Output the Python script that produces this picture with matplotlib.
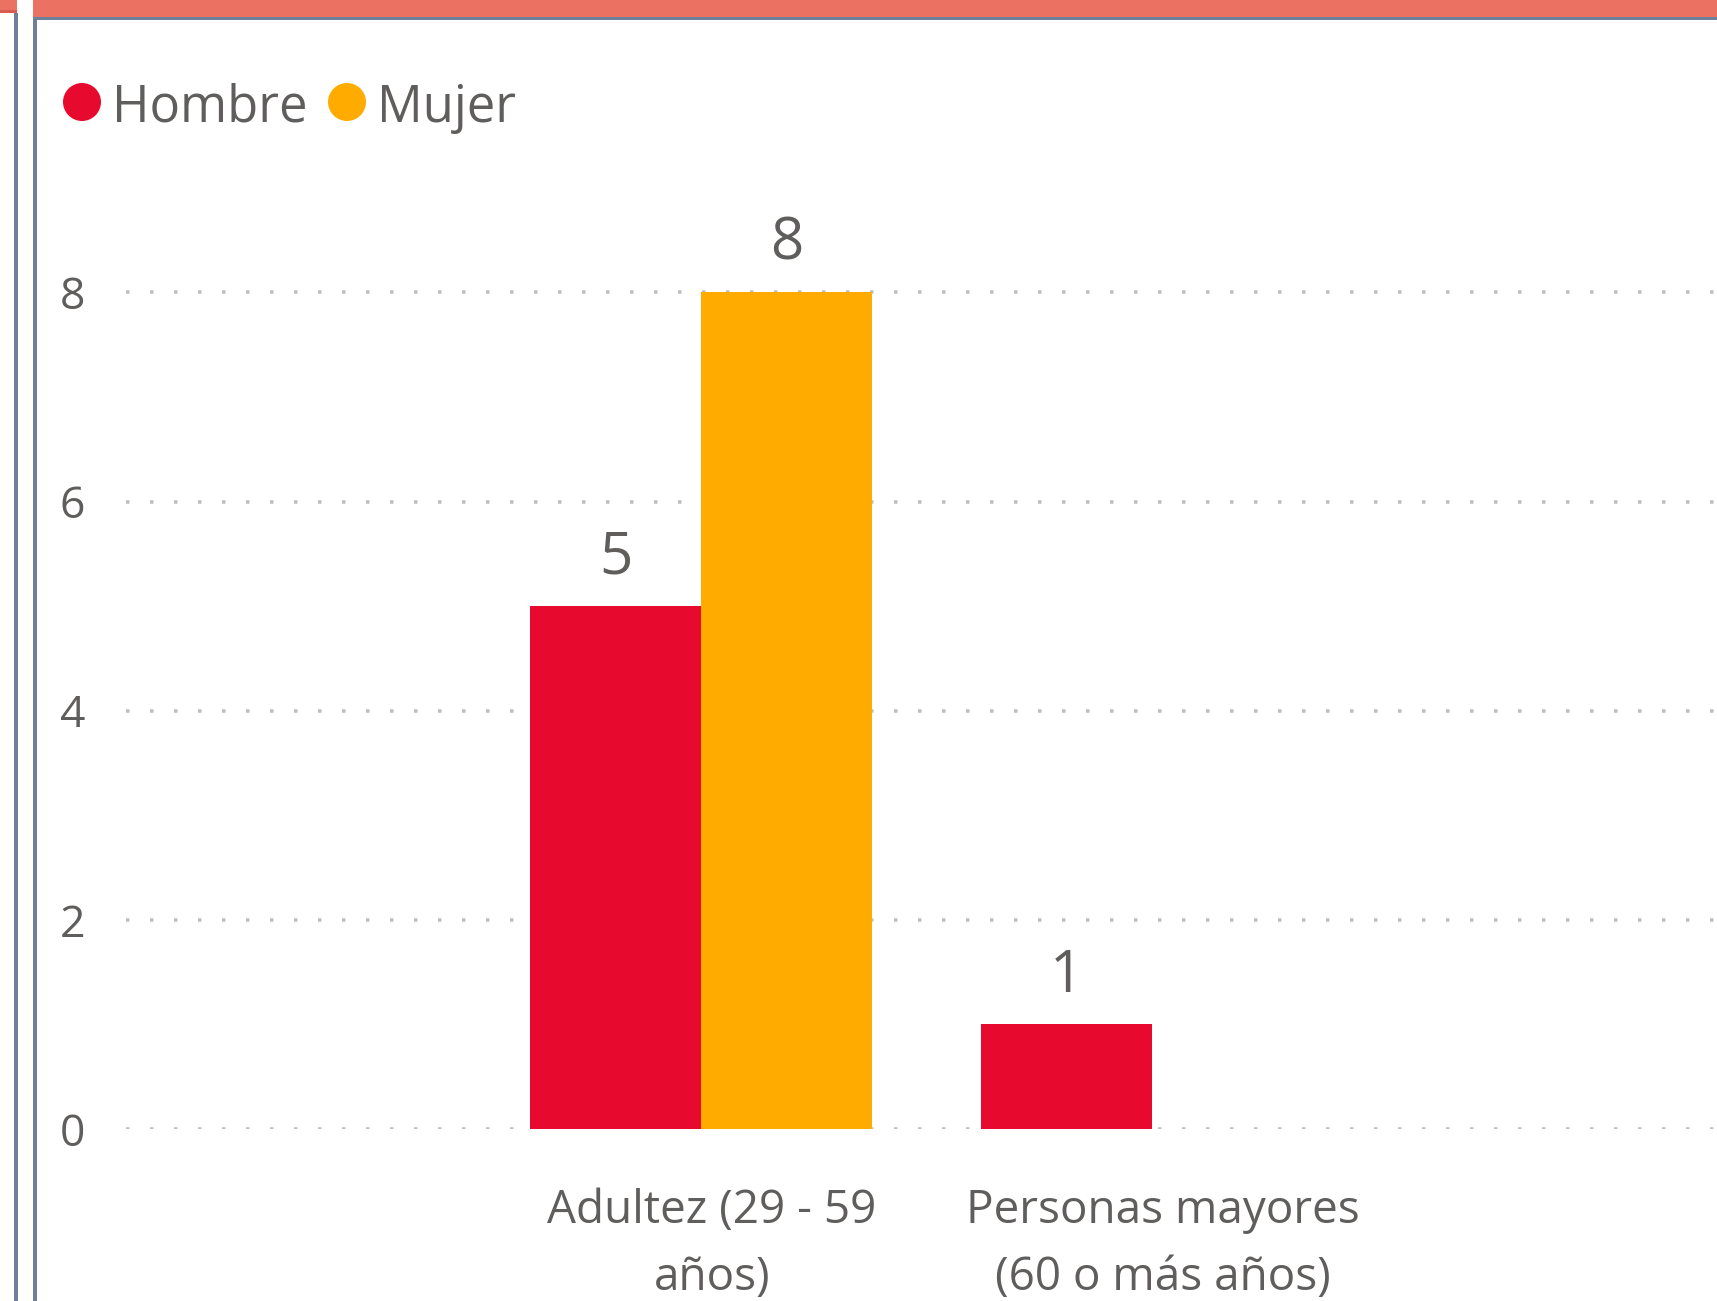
import matplotlib
matplotlib.use("Agg")
import matplotlib.pyplot as plt
from matplotlib.patches import Rectangle, Circle
import matplotlib.transforms as mtransforms
import numpy as np

# ---- data ----
categories = ["Adultez (29 - 59\naños)", "Personas mayores\n(60 o más años)"]
series_names = ["Hombre", "Mujer"]
hombre = [5, 1]
mujer = [8, 0]
yticks = [0, 2, 4, 6, 8]

# ---- style ----
RED = "#E8092E"
YEL = "#FFAB00"
TXT = "#605E5C"
GRID = "#BDBDBD"
SALMON = "#EB7262"
BORDER = "#6E7F99"
FONT = ["Open Sans", "DejaVu Sans"]

plt.rcParams["font.family"] = FONT
plt.rcParams["lines.scale_dashes"] = False

W, H = 1717, 1301
DPI = 100
fig = plt.figure(figsize=(W / DPI, H / DPI), dpi=DPI)
fig.patch.set_facecolor("white")

# decoration layer in pixel coordinates (top = 0)
deco = fig.add_axes([0, 0, 1, 1], zorder=0)
deco.set_xlim(0, W)
deco.set_ylim(H, 0)
deco.axis("off")
deco.add_patch(Rectangle((33, 0), W - 33, 17, color=SALMON, lw=0))
deco.add_patch(Rectangle((33, 17), W - 33, 3, color=BORDER, lw=0))
deco.add_patch(Rectangle((0, 0), 17, 10, color=SALMON, lw=0))
deco.add_patch(Rectangle((0, 10), 17, 3, color="#D85A50", lw=0))
deco.add_patch(Rectangle((14, 13), 4, H - 13, color=BORDER, lw=0))
deco.add_patch(Rectangle((33, 17), 4, H - 17, color=BORDER, lw=0))

# legend
leg_items = [(82, series_names[0], RED), (347, series_names[1], YEL)]
for cx, name, col in leg_items:
    deco.add_patch(Circle((cx, 102), 19, color=col, lw=0))
    deco.text(cx + 30, 102, name, fontsize=36.5, color=TXT, va="center_baseline", ha="left")

# main axes: zero at y=1129px, 8 at y=292.4px ; category 0 at x=701px, 1 at 1152px
px_per_unit = (1129 - 292.4) / 8
ytop = 9
ax_bottom = 1 - 1129 / H
ax_height = (ytop * px_per_unit) / H
ax_left = 126 / W
ax = fig.add_axes([ax_left, ax_bottom, 1 - ax_left, ax_height], zorder=1)
ax.patch.set_alpha(0)

cat_px = 451.0
x0 = -(701 - 126) / cat_px
x1 = (W - 701) / cat_px
ax.set_xlim(x0, x1)
ax.set_ylim(0, ytop)

x = np.arange(len(categories))
bw = 171 / cat_px
b1 = ax.bar(x - bw / 2, hombre, width=bw, color=RED, zorder=3)
b2 = ax.bar(x + bw / 2, mujer, width=bw, color=YEL, zorder=3)

for bars, vals in ((b1, hombre), (b2, mujer)):
    for rect, v in zip(bars, vals):
        if v:
            ax.annotate(f"{v}", (rect.get_x() + rect.get_width() / 2, v),
                        xytext=(0, 23.5), textcoords="offset points",
                        ha="center", va="baseline", fontsize=42, color=TXT,
                        annotation_clip=False)

for s in ax.spines.values():
    s.set_visible(False)

ax.set_yticks(yticks)
ax.set_yticklabels([str(t) for t in yticks])
ax.tick_params(axis="y", length=0, pad=29.5, labelsize=32, labelcolor=TXT)
ax.yaxis.grid(True, color=GRID, linewidth=3.5 * 0.72, linestyle=(0, (3.5 * 0.72, 20.5 * 0.72)),
              dash_capstyle="butt")
ax.set_axisbelow(True)

ax.set_xticks(x)
ax.set_xticklabels(categories, linespacing=1.6)
ax.tick_params(axis="x", length=0, pad=42.5, labelsize=33, labelcolor=TXT)
offset = mtransforms.ScaledTranslation(11 / DPI, 0, fig.dpi_scale_trans)
for lab in ax.get_xticklabels():
    lab.set_transform(lab.get_transform() + offset)

fig.savefig("out.png", dpi=DPI, facecolor="white")
